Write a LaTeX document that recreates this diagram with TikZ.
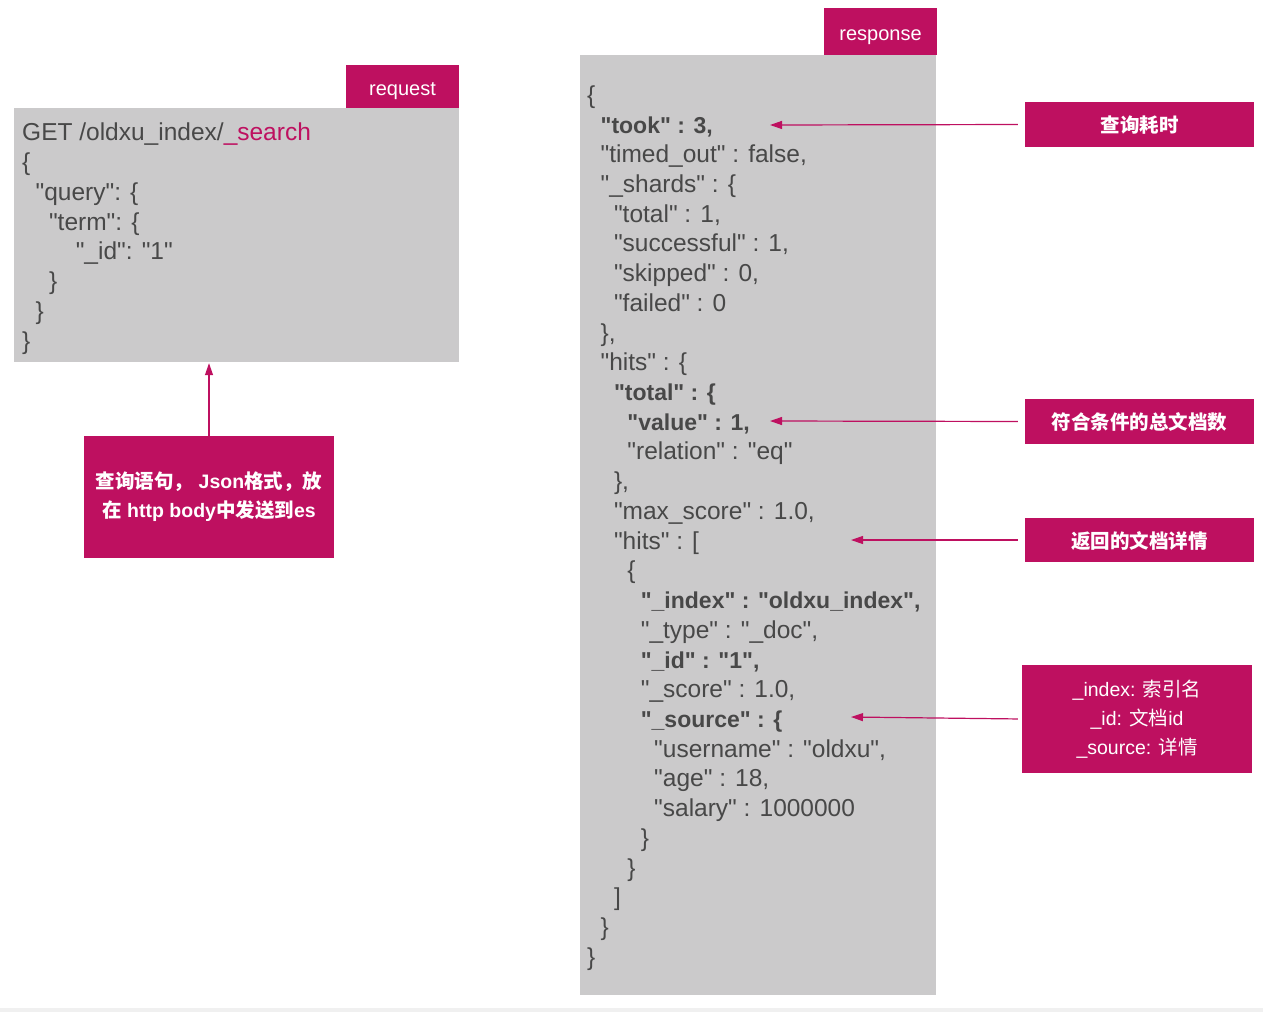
\documentclass[tikz,border=0pt]{standalone}
\usepackage{fontspec}
\setmainfont{Liberation Sans}[Ligatures=TeXOff]
\newfontfamily\cjk{Noto Sans CJK SC}
\usepackage{tikz}
\usetikzlibrary{arrows.meta, positioning}
\definecolor{esred}{RGB}{190,16,96}
\definecolor{codebg}{RGB}{203,202,203}
\definecolor{codefg}{RGB}{72,72,72}
\newlength\lvstep
\setlength\lvstep{13.4pt}
\newcommand{\lv}[1]{\hspace*{#1\lvstep}}
\newcommand{\kb}[1]{{\fontsize{23}{29.72}\selectfont\bfseries #1}}

\begin{document}
\begin{tikzpicture}[
        x=1pt, y=-1pt,
        codebox/.style={fill=codebg, inner sep=0pt},
        code/.style={text=codefg, inner sep=0pt, align=left, font=\fontsize{24.5}{29.72}\selectfont},
        tag/.style={fill=esred, text=white, inner sep=0pt, minimum width=113pt, text height=19.5pt, text depth=0pt, font=\fontsize{20}{24}\selectfont},
        note/.style={fill=esred, text=white, inner sep=0pt, align=center, font=\fontsize{19.5}{29}\selectfont},
        notearrow/.style={draw=esred, line width=1.2pt, -{Triangle[length=12pt, width=8pt]}},
    ]
    \useasboundingbox (0,0) rectangle (1263,1012);
    \fill[black!6] (0,1008) rectangle (1263,1012);

    % Code boxes
    \node[codebox, minimum width=445pt, minimum height=254pt] (reqbox) at (236.5,235) {};
    \node[codebox, minimum width=356pt, minimum height=940pt] (respbox) at (758,525) {};

    % Tags
    \node[tag, minimum height=43pt, above left=0pt of reqbox.north east] (reqtag) {request};
    \node[tag, minimum height=47pt, above left=0pt and -1pt of respbox.north east] (resptag) {response};

    % Request body (anchored on last baseline)
    \node[code, anchor=base west] (reqcode) at (22,349) {GET /oldxu\_index/{\color{esred}\_search}\\
        \{\\
        \lv{1}"query": \{\\
        \lv{2}"term": \{\\
        \lv{4}"\_id": "1"\\
        \lv{2}\}\\
        \lv{1}\}\\
        \}};

    % Response body (anchored on last baseline)
    \node[code, anchor=base west] (respcode) at (587,965.2) {\{\\
        \lv{1}\kb{"took" : 3,}\\
        \lv{1}"timed\_out" : false,\\
        \lv{1}"\_shards" : \{\\
        \lv{2}"total" : 1,\\
        \lv{2}"successful" : 1,\\
        \lv{2}"skipped" : 0,\\
        \lv{2}"failed" : 0\\
        \lv{1}\},\\
        \lv{1}"hits" : \{\\
        \lv{2}\kb{"total" : \{}\\
        \lv{3}\kb{"value" : 1,}\\
        \lv{3}"relation" : "eq"\\
        \lv{2}\},\\
        \lv{2}"max\_score" : 1.0,\\
        \lv{2}"hits" : [\\
        \lv{3}\{\\
        \lv{4}\kb{"\_index" : "oldxu\_index",}\\
        \lv{4}"\_type" : "\_doc",\\
        \lv{4}\kb{"\_id" : "1",}\\
        \lv{4}"\_score" : 1.0,\\
        \lv{4}\kb{"\_source" : \{}\\
        \lv{5}"username" : "oldxu",\\
        \lv{5}"age" : 18,\\
        \lv{5}"salary" : 1000000\\
        \lv{4}\}\\
        \lv{3}\}\\
        \lv{2}]\\
        \lv{1}\}\\
        \}};

    % Notes
    \node[note, font=\fontsize{19.5}{29}\selectfont\bfseries, minimum width=250pt, minimum height=122pt] (reqnote) at (209,497)
        {{\cjk 查询语句，} Json{\cjk 格式，放}\\{\cjk 在} http body{\cjk 中发送到}es};
    \node[note, text depth=0pt, minimum width=229pt, minimum height=45pt] (tooknote) at (1139.5,124.5) {\cjk\bfseries 查询耗时};
    \node[note, text depth=0pt, minimum width=229pt, minimum height=45pt] (totalnote) at (1139.5,421.5) {\cjk\bfseries 符合条件的总文档数};
    \node[note, text depth=0pt, minimum width=229pt, minimum height=44pt] (hitsnote) at (1139.5,540) {\cjk\bfseries 返回的文档详情};
    \node[note, minimum width=230pt, minimum height=108pt] (docnote) at (1137,719)
        {\_index: {\cjk 索引名}\\\_id: {\cjk 文档}id\\\_source: {\cjk 详情}};

    % Arrow ends
    \coordinate (tookpt) at (770,125);
    \coordinate (totalpt) at (770,421);
    \coordinate (hitspt) at (851,540);
    \coordinate (docpt) at (851,717);

    % Arrows
    \draw[notearrow, shorten >=1pt] (reqnote.north) -- (reqnote.north |- reqbox.south);
    \draw[notearrow, shorten <=7pt] (tooknote.west) -- (tookpt);
    \draw[notearrow, shorten <=7pt] (totalnote.west) -- (totalpt);
    \draw[notearrow, shorten <=7pt] (hitsnote.west) -- (hitspt);
    \draw[notearrow, shorten <=4pt] (docnote.west) -- (docpt);
\end{tikzpicture}
\end{document}
